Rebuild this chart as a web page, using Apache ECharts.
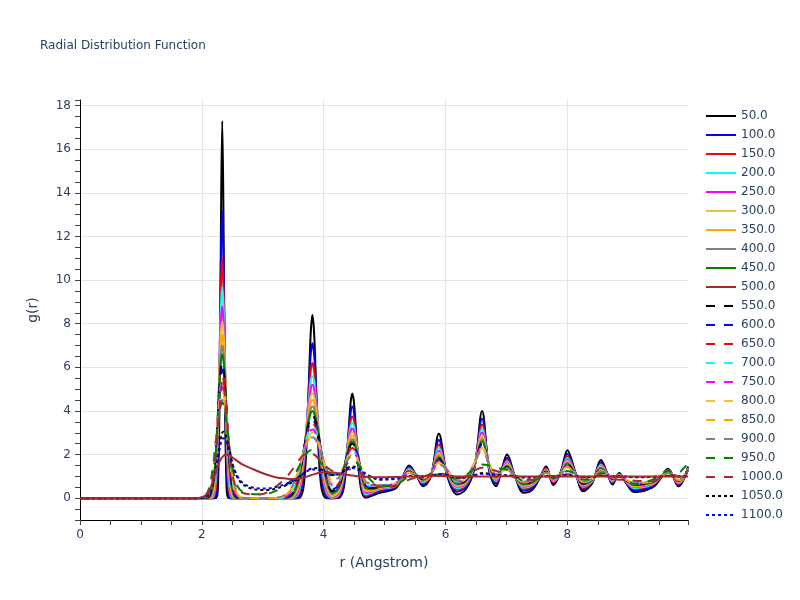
<!DOCTYPE html>
<html><head><meta charset="utf-8">
<script src="https://cdn.jsdelivr.net/npm/echarts@6/dist/echarts.min.js"></script>
<style>html,body{margin:0;padding:0;background:#fff}#c{width:800px;height:600px}</style>
</head><body><div id="c"></div>
<script>
// r grid (Angstrom)
const R = [0, 1.0, 1.9, 2.005, 2.085, 2.145, 2.195, 2.235, 2.265, 2.295,
 2.315, 2.335, 2.355, 2.375, 2.405, 2.435, 2.475, 2.525, 2.585, 2.665,
 2.8, 2.95, 3.1, 3.225, 3.385, 3.495, 3.595, 3.675, 3.735, 3.785,
 3.815, 3.845, 3.895, 3.955, 4.04, 4.14, 4.25, 4.33, 4.39, 4.44,
 4.47, 4.5, 4.55, 4.61, 4.69, 4.8, 4.92, 5.18, 5.3, 5.4,
 5.53, 5.63, 5.76, 5.89, 6.03, 6.19, 6.33, 6.47, 6.6, 6.72,
 6.83, 6.92, 7.01, 7.14, 7.28, 7.43, 7.56, 7.65, 7.77, 7.89,
 8.0, 8.13, 8.26, 8.41, 8.55, 8.66, 8.74, 8.85, 8.96, 9.1,
 9.4, 9.53, 9.65, 9.72, 9.82, 9.9, 9.98];

const g50 = [0,0,0,0,0,0,0,0.01,0.53,5.54,
 13.0,17.3,13.0,5.54,0.53,0.01,0,0,0,0,
 0,0,0,0,0,0,0.01,0.63,3.6,7.46,
 8.4,7.46,3.6,0.63,0.01,0,0.02,0.47,2.25,4.32,
 4.8,4.32,2.25,0.47,0.02,0.12,0.25,0.45,1.0,1.5,
 1.0,0.55,1.0,2.95,1.0,0.17,0.4,1.3,4.0,1.2,
 0.55,1.3,2.0,1.0,0.25,0.4,1.0,1.47,0.6,1.2,
 2.2,1.2,0.32,0.7,1.75,1.1,0.63,1.15,0.7,0.28,
 0.5,0.9,1.35,1.1,0.55,0.8,1.45];
const g100 = [0,0,0,0,0,0,0,0.21,1.75,6.82,
 11.19,13.2,11.19,6.82,1.75,0.21,0,0,0,0,
 0,0,0,0,0,0,0.07,1.12,3.88,6.52,
 7.1,6.52,3.88,1.12,0.07,0,0.05,0.71,2.35,3.87,
 4.2,3.87,2.35,0.71,0.05,0.19,0.32,0.5,0.99,1.43,
 1.01,0.63,1.03,2.67,1.06,0.3,0.5,1.36,3.64,1.28,
 0.66,1.28,1.86,1.0,0.35,0.49,1.01,1.41,0.68,1.18,
 2.04,1.18,0.41,0.74,1.65,1.1,0.69,1.12,0.73,0.36,
 0.56,0.92,1.31,1.09,0.61,0.83,1.41];
const g150 = [0,0,0,0,0,0,0.04,0.62,2.69,6.94,
 9.8,11.0,9.8,6.94,2.69,0.62,0.04,0,0,0,
 0,0,0,0,0,0,0.19,1.51,3.91,5.81,
 6.2,5.81,3.91,1.51,0.19,0,0.11,0.91,2.36,3.51,
 3.75,3.51,2.36,0.91,0.11,0.24,0.37,0.54,0.98,1.38,
 1.02,0.69,1.05,2.46,1.11,0.39,0.58,1.41,3.37,1.34,
 0.74,1.26,1.75,1.0,0.43,0.56,1.02,1.36,0.74,1.17,
 1.92,1.17,0.47,0.77,1.57,1.1,0.74,1.1,0.75,0.43,
 0.61,0.94,1.28,1.08,0.66,0.85,1.38];
const g200 = [0,0,0,0,0,0,0.12,1.04,3.24,6.78,
 8.87,9.7,8.87,6.78,3.24,1.04,0.12,0,0,0,
 0,0,0,0,0,0.01,0.32,1.77,3.84,5.31,
 5.6,5.31,3.84,1.77,0.32,0.01,0.18,1.04,2.33,3.27,
 3.45,3.27,2.33,1.04,0.18,0.27,0.41,0.57,0.98,1.34,
 1.02,0.73,1.07,2.31,1.14,0.46,0.63,1.44,3.17,1.38,
 0.8,1.25,1.68,1.0,0.48,0.61,1.02,1.32,0.78,1.15,
 1.83,1.15,0.52,0.79,1.52,1.1,0.78,1.08,0.77,0.47,
 0.64,0.95,1.26,1.08,0.69,0.87,1.36];
const g250 = [0,0,0,0,0,0.01,0.23,1.39,3.56,6.55,
 8.17,8.8,8.17,6.55,3.56,1.39,0.23,0.01,0,0,
 0,0,0,0,0,0.03,0.45,1.92,3.76,4.97,
 5.2,4.97,3.76,1.92,0.45,0.04,0.25,1.14,2.29,3.05,
 3.2,3.05,2.29,1.14,0.25,0.31,0.44,0.59,0.97,1.31,
 1.03,0.77,1.08,2.18,1.17,0.52,0.68,1.47,3.01,1.42,
 0.85,1.24,1.61,1.0,0.53,0.65,1.03,1.29,0.82,1.15,
 1.76,1.15,0.56,0.81,1.47,1.1,0.81,1.07,0.78,0.51,
 0.67,0.96,1.24,1.07,0.72,0.88,1.34];
const g300 = [0,0,0,0,0,0.03,0.38,1.71,3.78,6.32,
 7.61,8.1,7.61,6.32,3.78,1.71,0.38,0.03,0,0,
 0,0,0,0,0,0.06,0.59,2.06,3.64,4.62,
 4.8,4.62,3.64,2.06,0.59,0.08,0.32,1.21,2.23,2.88,
 3.0,2.88,2.23,1.21,0.32,0.34,0.47,0.61,0.97,1.28,
 1.03,0.8,1.09,2.08,1.19,0.56,0.71,1.49,2.88,1.45,
 0.89,1.24,1.57,1.0,0.56,0.68,1.03,1.27,0.85,1.14,
 1.7,1.14,0.59,0.82,1.44,1.1,0.83,1.06,0.79,0.54,
 0.69,0.96,1.23,1.07,0.74,0.89,1.33];
const g350 = [0,0,0,0,0,0.06,0.54,1.96,3.88,6.05,
 7.11,7.5,7.11,6.05,3.88,1.96,0.54,0.06,0,0,
 0,0,0,0,0,0.09,0.72,2.14,3.53,4.35,
 4.5,4.35,3.53,2.14,0.72,0.12,0.38,1.26,2.18,2.75,
 2.85,2.75,2.18,1.26,0.38,0.37,0.49,0.62,0.97,1.26,
 1.03,0.82,1.1,2.0,1.2,0.6,0.74,1.5,2.78,1.47,
 0.92,1.23,1.52,1.0,0.59,0.71,1.03,1.25,0.87,1.13,
 1.66,1.13,0.61,0.84,1.41,1.1,0.85,1.05,0.8,0.57,
 0.7,0.97,1.21,1.07,0.75,0.9,1.31];
const g400 = [0,0,0,0,0,0.11,0.72,2.19,3.96,5.81,
 6.68,7.0,6.68,5.81,3.96,2.19,0.72,0.11,0,0,
 0,0,0,0,0.01,0.14,0.85,2.2,3.4,4.08,
 4.2,4.08,3.4,2.2,0.85,0.19,0.45,1.3,2.12,2.61,
 2.7,2.61,2.12,1.3,0.44,0.41,0.51,0.63,0.96,1.24,
 1.04,0.84,1.11,1.93,1.22,0.63,0.77,1.52,2.69,1.49,
 0.95,1.23,1.49,1.0,0.62,0.73,1.04,1.24,0.89,1.13,
 1.62,1.13,0.63,0.85,1.38,1.1,0.86,1.04,0.81,0.59,
 0.72,0.97,1.2,1.06,0.77,0.91,1.3];
const g450 = [0,0,0,0,0.01,0.16,0.87,2.34,3.97,5.59,
 6.33,6.6,6.33,5.59,3.97,2.34,0.87,0.16,0.01,0,
 0,0,0,0,0.02,0.18,0.93,2.22,3.3,3.89,
 4.0,3.89,3.3,2.22,0.93,0.24,0.5,1.32,2.08,2.52,
 2.6,2.52,2.08,1.32,0.48,0.43,0.52,0.64,0.96,1.23,
 1.04,0.86,1.12,1.87,1.23,0.66,0.79,1.53,2.61,1.51,
 0.97,1.22,1.46,1.0,0.64,0.75,1.04,1.22,0.91,1.12,
 1.58,1.12,0.65,0.85,1.36,1.1,0.88,1.03,0.82,0.6,
 0.73,0.98,1.2,1.06,0.78,0.92,1.3];
const g500 = [0,0,0,0.05,0.2,0.5,0.9,1.25,1.5,1.7,
 1.8,1.88,1.94,1.98,2.0,1.98,1.92,1.82,1.7,1.55,
 1.38,1.2,1.05,0.95,0.9,0.88,0.9,0.95,1.0,1.05,
 1.08,1.1,1.14,1.17,1.19,1.18,1.14,1.1,1.07,1.05,
 1.04,1.03,1.01,1.0,0.98,0.97,0.96,0.97,0.98,1.0,
 1.0,1.01,1.02,1.02,1.01,1.0,0.99,0.99,1.0,1.0,
 1.0,1.01,1.01,1.0,1.0,0.99,0.99,1.0,1.0,1.0,
 1.0,1.0,1.0,1.0,1.0,1.0,1.0,1.0,1.0,1.0,
 1.0,1.0,1.0,1.0,1.0,1.0,1.0];
const g550 = [0,0,0,0,0.02,0.23,1.04,2.49,3.96,5.36,
 5.98,6.2,5.98,5.36,3.96,2.49,1.04,0.23,0.02,0,
 0,0,0,0,0.03,0.24,1.03,2.24,3.2,3.71,
 3.8,3.71,3.2,2.24,1.04,0.32,0.56,1.33,2.04,2.43,
 2.5,2.43,2.04,1.33,0.53,0.47,0.53,0.65,0.96,1.22,
 1.04,0.87,1.12,1.82,1.24,0.68,0.81,1.54,2.54,1.52,
 1.0,1.22,1.43,1.0,0.66,0.76,1.04,1.21,0.92,1.12,
 1.55,1.12,0.67,0.86,1.34,1.1,0.89,1.03,0.82,0.62,
 0.74,0.98,1.19,1.06,0.79,0.92,1.29];
const g600 = [0,0,0,0,0.03,0.3,1.18,2.59,3.94,5.17,
 5.71,5.9,5.71,5.17,3.94,2.59,1.18,0.3,0.03,0,
 0,0,0,0,0.04,0.3,1.11,2.24,3.08,3.52,
 3.6,3.52,3.08,2.24,1.12,0.4,0.61,1.35,1.99,2.34,
 2.4,2.34,1.99,1.34,0.57,0.5,0.55,0.66,0.96,1.2,
 1.04,0.89,1.13,1.76,1.26,0.71,0.83,1.56,2.47,1.54,
 1.02,1.21,1.4,1.0,0.68,0.78,1.04,1.2,0.94,1.12,
 1.52,1.12,0.69,0.87,1.32,1.1,0.9,1.02,0.83,0.64,
 0.76,0.99,1.18,1.06,0.81,0.93,1.28];
const g650 = [0,0,0,0,0.05,0.38,1.3,2.66,3.89,4.97,
 5.44,5.6,5.44,4.97,3.89,2.66,1.3,0.38,0.05,0,
 0,0,0,0,0.06,0.35,1.18,2.23,2.99,3.38,
 3.45,3.38,2.99,2.23,1.2,0.47,0.68,1.36,1.93,2.24,
 2.3,2.24,1.93,1.35,0.62,0.53,0.56,0.67,0.96,1.19,
 1.04,0.9,1.13,1.72,1.26,0.72,0.84,1.56,2.42,1.55,
 1.03,1.21,1.38,1.0,0.69,0.8,1.04,1.19,0.95,1.11,
 1.5,1.11,0.7,0.88,1.31,1.1,0.91,1.02,0.83,0.65,
 0.76,0.99,1.17,1.05,0.81,0.93,1.27];
const g700 = [0,0,0,0,0.08,0.48,1.43,2.72,3.82,4.76,
 5.16,5.3,5.16,4.76,3.82,2.72,1.43,0.48,0.08,0,
 0,0,0,0,0.08,0.41,1.23,2.21,2.9,3.24,
 3.3,3.24,2.9,2.21,1.25,0.56,0.74,1.37,1.88,2.15,
 2.2,2.15,1.88,1.35,0.66,0.57,0.57,0.68,0.95,1.18,
 1.05,0.91,1.14,1.68,1.27,0.74,0.86,1.57,2.36,1.56,
 1.05,1.21,1.36,1.0,0.71,0.81,1.05,1.18,0.96,1.11,
 1.47,1.11,0.71,0.88,1.29,1.1,0.92,1.01,0.84,0.66,
 0.77,0.99,1.17,1.05,0.82,0.94,1.27];
const g750 = [0,0,0,0.01,0.11,0.55,1.52,2.75,3.77,4.62,
 4.98,5.1,4.98,4.62,3.77,2.75,1.52,0.55,0.11,0.01,
 0,0,0,0,0.1,0.47,1.28,2.19,2.8,3.1,
 3.15,3.1,2.8,2.19,1.31,0.63,0.78,1.38,1.85,2.1,
 2.15,2.1,1.85,1.35,0.68,0.59,0.58,0.68,0.95,1.17,
 1.05,0.92,1.14,1.65,1.28,0.76,0.87,1.58,2.33,1.57,
 1.06,1.21,1.35,1.0,0.72,0.82,1.05,1.17,0.97,1.11,
 1.46,1.11,0.72,0.89,1.28,1.1,0.93,1.01,0.84,0.67,
 0.78,0.99,1.16,1.05,0.83,0.94,1.26];
const g800 = [0,0,0,0.01,0.14,0.63,1.6,2.77,3.71,4.47,
 4.79,4.9,4.79,4.47,3.71,2.77,1.6,0.63,0.14,0.01,
 0,0,0,0.01,0.13,0.53,1.32,2.15,2.69,2.95,
 3.0,2.95,2.69,2.15,1.35,0.71,0.83,1.39,1.83,2.06,
 2.1,2.06,1.82,1.35,0.7,0.61,0.58,0.69,0.95,1.17,
 1.05,0.93,1.14,1.62,1.29,0.77,0.88,1.59,2.29,1.58,
 1.07,1.2,1.33,1.0,0.73,0.83,1.05,1.17,0.98,1.11,
 1.44,1.11,0.73,0.89,1.27,1.1,0.93,1.01,0.84,0.68,
 0.79,1.0,1.16,1.05,0.84,0.94,1.26];
const g850 = [0,0,0,0.02,0.18,0.71,1.68,2.78,3.64,4.32,
 4.6,4.7,4.6,4.32,3.64,2.78,1.68,0.71,0.18,0.02,
 0,0,0,0.01,0.16,0.58,1.35,2.13,2.62,2.86,
 2.9,2.86,2.62,2.13,1.39,0.79,0.9,1.39,1.77,1.96,
 2.0,1.96,1.75,1.34,0.74,0.65,0.59,0.7,0.95,1.16,
 1.05,0.94,1.15,1.58,1.29,0.79,0.89,1.59,2.24,1.59,
 1.09,1.2,1.31,1.0,0.74,0.84,1.05,1.16,0.99,1.1,
 1.42,1.1,0.74,0.9,1.26,1.1,0.94,1.0,0.85,0.69,
 0.79,1.0,1.15,1.05,0.84,0.95,1.25];
const g900 = [0,0,0,0.02,0.22,0.79,1.75,2.78,3.56,4.17,
 4.41,4.5,4.41,4.17,3.56,2.78,1.75,0.79,0.22,0.02,
 0,0,0,0.02,0.19,0.62,1.38,2.1,2.55,2.76,
 2.8,2.76,2.55,2.1,1.43,0.85,0.95,1.39,1.74,1.92,
 1.95,1.92,1.72,1.33,0.76,0.68,0.6,0.7,0.95,1.15,
 1.05,0.95,1.15,1.55,1.3,0.8,0.9,1.6,2.2,1.6,
 1.1,1.2,1.3,1.0,0.75,0.85,1.05,1.15,1.0,1.1,
 1.4,1.1,0.75,0.9,1.25,1.1,0.95,1.0,0.85,0.7,
 0.8,1.0,1.15,1.05,0.85,0.95,1.25];
const g950 = [0,0,0,0.02,0.2,0.7,1.6,2.6,3.4,4.0,
 4.3,4.4,4.3,4.05,3.5,2.85,1.95,1.1,0.55,0.3,
 0.2,0.18,0.22,0.35,0.6,0.95,1.45,1.85,2.1,2.2,
 2.18,2.1,1.9,1.6,1.25,1.05,1.15,1.4,1.6,1.7,
 1.72,1.7,1.6,1.4,1.1,0.75,0.55,0.6,0.8,1.0,
 1.0,0.95,1.0,1.1,1.0,0.9,1.05,1.35,1.55,1.5,
 1.4,1.35,1.3,1.05,0.8,0.8,0.95,1.05,1.0,1.05,
 1.25,1.1,0.85,0.9,1.15,1.1,1.0,1.0,0.85,0.65,
 0.85,1.1,1.25,1.2,1.15,1.35,1.6];
const g1000 = [0,0,0,0.01,0.1,0.4,1.1,2.1,3.1,4.2,
 4.9,5.4,5.3,4.8,3.9,2.8,1.65,0.8,0.4,0.25,
 0.18,0.17,0.3,0.55,0.95,1.35,1.75,2.0,2.1,2.08,
 2.05,2.0,1.88,1.7,1.45,1.25,1.2,1.28,1.32,1.33,
 1.32,1.3,1.25,1.15,0.95,0.7,0.52,0.55,0.7,0.85,
 0.95,1.0,1.1,1.15,1.05,0.9,1.0,1.25,1.4,1.35,
 1.25,1.2,1.1,0.95,0.85,0.85,0.95,1.0,1.0,1.05,
 1.1,1.05,0.95,0.95,1.05,1.0,0.9,0.85,0.85,0.8,
 0.78,0.9,1.0,1.05,1.05,1.1,1.15];
const g1050 = [0,0,0,0.02,0.12,0.35,0.8,1.4,1.95,2.5,
 2.8,3.0,3.05,3.0,2.75,2.4,1.9,1.35,0.95,0.65,
 0.45,0.38,0.38,0.45,0.6,0.75,0.95,1.15,1.28,1.35,
 1.37,1.38,1.37,1.32,1.2,1.08,1.1,1.25,1.38,1.44,
 1.45,1.44,1.38,1.28,1.12,0.95,0.85,0.88,0.95,1.02,
 1.02,1.0,1.03,1.1,1.07,0.95,0.95,1.05,1.15,1.12,
 1.06,1.05,1.05,1.0,0.95,0.95,1.0,1.02,1.0,1.02,
 1.06,1.03,0.97,0.97,1.03,1.02,1.0,1.0,0.98,0.96,
 0.97,1.0,1.03,1.02,0.99,1.0,1.02];
const g1100 = [0,0,0,0.03,0.15,0.4,0.85,1.4,1.9,2.3,
 2.55,2.7,2.75,2.72,2.55,2.25,1.85,1.4,1.0,0.72,
 0.52,0.45,0.45,0.52,0.66,0.8,0.98,1.15,1.25,1.3,
 1.32,1.32,1.31,1.27,1.17,1.08,1.1,1.22,1.32,1.37,
 1.38,1.37,1.32,1.24,1.1,0.96,0.88,0.9,0.96,1.02,
 1.02,1.0,1.03,1.08,1.06,0.96,0.96,1.04,1.12,1.1,
 1.05,1.04,1.04,1.0,0.96,0.96,1.0,1.02,1.0,1.02,
 1.05,1.02,0.98,0.98,1.02,1.01,1.0,1.0,0.99,0.97,
 0.98,1.0,1.02,1.01,0.99,1.0,1.01];

const names = ['50.0','100.0','150.0','200.0','250.0','300.0','350.0','400.0','450.0','500.0',
 '550.0','600.0','650.0','700.0','750.0','800.0','850.0','900.0','950.0','1000.0','1050.0','1100.0'];
const values = [g50,g100,g150,g200,g250,g300,g350,g400,g450,g500,
 g550,g600,g650,g700,g750,g800,g850,g900,g950,g1000,g1050,g1100];

// styles
const palette = ['#000000','#0000ff','#ff0000','#00ffff','#ff00ff','#efc23d','#ffa500','#808080','#008000','#a52a2a'];
const colors = [...palette, ...palette, '#000000', '#0000ff'];
const dashes = names.map((n, i) => i < 10 ? 'solid' : (i < 20 ? [9, 9] : [3, 3]));
const onTop = names.map((n, i) => i === 9 ? 3 : 2);

const FONT = 'DejaVu Sans';
const txt = '#2a3f5f';
const grid = '#e5e5e5';
const clear = 'rgba(0,0,0,0)';
const evenLabel = v => {
  const k = Math.round(v);
  if (Math.abs(v - k) > 1e-6 || k % 2 !== 0) return '';
  return String(Math.abs(k));
};

const chart = echarts.init(document.getElementById('c'), null, {renderer: 'canvas'});
chart.setOption({
  animation: false,
  backgroundColor: '#fff',
  textStyle: {fontFamily: FONT},
  title: {
    text: 'Radial Distribution Function', left: 40, top: 40, padding: 0,
    textStyle: {fontSize: 12, fontWeight: 'normal', color: txt, fontFamily: FONT}
  },
  legend: {
    orient: 'vertical', left: 705, top: 110, padding: 0,
    itemWidth: 30, itemHeight: 14, itemGap: 7,
    data: names,
    itemStyle: {opacity: 0},
    textStyle: {fontSize: 12, color: txt, fontFamily: FONT}
  },
  grid: {left: 80, right: 112, top: 100, bottom: 80},
  xAxis: {
    type: 'value', min: 0, max: 9.98, interval: 0.5,
    name: 'r (Angstrom)', nameLocation: 'middle', nameGap: 36,
    nameTextStyle: {fontSize: 14, color: txt, fontFamily: FONT},
    axisLine: {show: true, onZero: false, lineStyle: {color: '#000', width: 1}},
    axisTick: {show: true, inside: false, length: 5, lineStyle: {color: '#444'}},
    axisLabel: {formatter: evenLabel, color: txt, fontSize: 12, margin: 9, fontFamily: FONT},
    splitLine: {show: true, showMaxLine: false, lineStyle: {color: [grid, clear, clear, clear], width: 1}}
  },
  yAxis: {
    type: 'value', min: -1, max: 18.26, interval: 0.5,
    name: 'g(r)', nameLocation: 'middle', nameGap: 40,
    nameTextStyle: {fontSize: 14, color: txt, fontFamily: FONT},
    axisLine: {show: true, onZero: false, lineStyle: {color: '#000', width: 1}},
    axisTick: {show: true, inside: false, length: 5, lineStyle: {color: '#444'}},
    axisLabel: {formatter: evenLabel, color: txt, fontSize: 12, margin: 9, fontFamily: FONT},
    splitLine: {show: true, showMaxLine: false, lineStyle: {color: [clear, clear, grid, clear], width: 1}}
  },
  series: names.map((n, i) => ({
    name: n, type: 'line', symbol: 'none', smooth: 0.35, z: onTop[i],
    data: R.map((r, j) => [r, values[i][j]]),
    lineStyle: {color: colors[i], width: 2, type: dashes[i]},
    itemStyle: {color: colors[i]},
    emphasis: {disabled: true}, silent: true
  }))
});
</script></body></html>
